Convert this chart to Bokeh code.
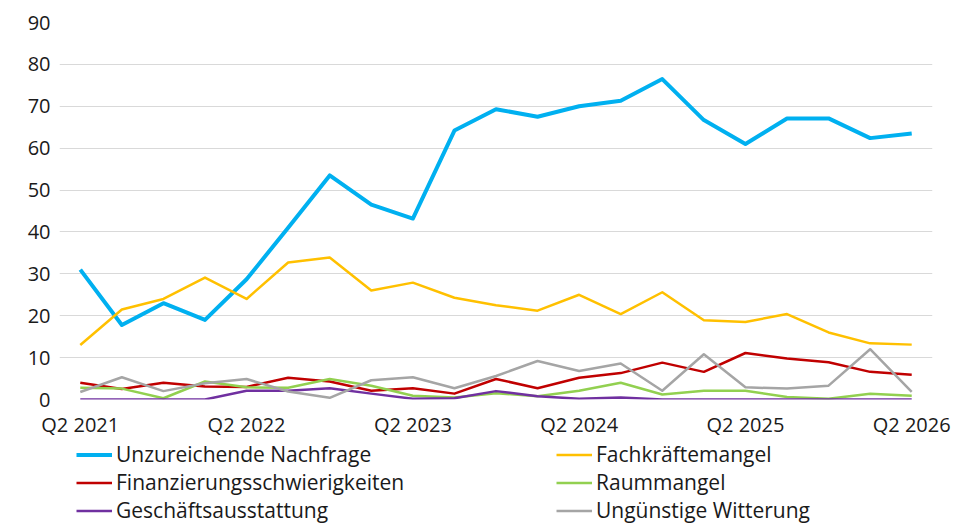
from bokeh.plotting import figure
from bokeh.models import Range1d, FixedTicker, SingleIntervalTicker, Legend, LegendItem
from bokeh.layouts import column
from bokeh.embed import file_html
from bokeh.resources import INLINE

quarters = ["Q2 2021", "Q3 2021", "Q4 2021", "Q1 2022", "Q2 2022", "Q3 2022", "Q4 2022",
            "Q1 2023", "Q2 2023", "Q3 2023", "Q4 2023", "Q1 2024", "Q2 2024", "Q3 2024",
            "Q4 2024", "Q1 2025", "Q2 2025", "Q3 2025", "Q4 2025", "Q1 2026", "Q2 2026"]
tick_positions = [0, 4, 8, 12, 16, 20]

nachfrage = [31.0, 17.8, 23.0, 19.0, 28.7, 41.0, 53.5, 46.5, 43.2, 64.2, 69.3,
             67.5, 70.0, 71.3, 76.5, 66.7, 61.0, 67.1, 67.1, 62.4, 63.5]
fachkraefte = [13.0, 21.5, 24.0, 29.1, 24.0, 32.7, 33.9, 26.0, 27.9, 24.3, 22.5,
               21.2, 25.0, 20.4, 25.6, 18.9, 18.5, 20.4, 16.0, 13.4, 13.1]
finanzierung = [4.0, 2.5, 4.0, 3.1, 3.0, 5.2, 4.3, 2.1, 2.7, 1.4, 4.9,
                2.7, 5.2, 6.3, 8.8, 6.6, 11.1, 9.8, 8.9, 6.6, 5.9]
raummangel = [2.8, 2.6, 0.3, 4.3, 2.9, 2.8, 4.9, 3.3, 0.9, 0.5, 1.5,
              0.8, 2.1, 4.0, 1.2, 2.1, 2.1, 0.6, 0.2, 1.4, 0.9]
ausstattung = [0.0, 0.0, 0.0, 0.0, 2.1, 2.1, 2.7, 1.4, 0.2, 0.3, 2.0,
               0.8, 0.2, 0.5, 0.0, 0.0, 0.0, 0.0, 0.0, 0.0, 0.0]
witterung = [1.8, 5.3, 2.0, 3.9, 4.9, 1.9, 0.4, 4.6, 5.3, 2.7, 5.6,
             9.2, 6.8, 8.6, 2.1, 10.8, 2.9, 2.6, 3.3, 12.0, 1.8]

series = [
    ("Unzureichende Nachfrage", nachfrage, "#00B0F0", 4),
    ("Fachkräftemangel", fachkraefte, "#FFC000", 2.5),
    ("Finanzierungsschwierigkeiten", finanzierung, "#C00000", 2.5),
    ("Raummangel", raummangel, "#92D050", 2.5),
    ("Geschäftsausstattung", ausstattung, "#7030A0", 2.5),
    ("Ungünstige Witterung", witterung, "#A5A5A5", 2.5),
]
legend_col1 = ["Unzureichende Nachfrage", "Finanzierungsschwierigkeiten", "Geschäftsausstattung"]
legend_col2 = ["Fachkräftemangel", "Raummangel", "Ungünstige Witterung"]

FONT = "Open Sans"
W = 954

p = figure(width=W, height=440, output_backend="svg", toolbar_location=None,
           x_range=Range1d(-0.5, 20.5), y_range=Range1d(0, 90),
           min_border_left=59, min_border_right=22, min_border_top=22,
           min_border_bottom=39)
p.outline_line_color = None

xs = list(range(len(quarters)))
for name, vals, color, lw in series:
    p.line(xs, vals, line_color=color, line_width=lw, line_join="round")

p.xgrid.grid_line_color = None
p.ygrid.grid_line_color = "#D9D9D9"
p.ygrid.grid_line_width = 1

p.yaxis.ticker = SingleIntervalTicker(interval=10)
p.xaxis.ticker = FixedTicker(ticks=tick_positions)
p.xaxis.major_label_overrides = {i: quarters[i] for i in tick_positions}
for ax in (p.xaxis[0], p.yaxis[0]):
    ax.axis_line_color = None
    ax.major_tick_line_color = None
    ax.minor_tick_line_color = None
    ax.major_tick_out = 0
    ax.major_tick_in = 0
    ax.minor_tick_out = 0
    ax.major_label_text_font = FONT
    ax.major_label_text_font_size = "20px"
    ax.major_label_text_color = "#1a1a1a"
p.yaxis.major_label_standoff = 9
p.xaxis.major_label_standoff = 11

# legend strip: same series drawn out of view, used only as legend keys
lg = figure(width=W, height=84, output_backend="svg", toolbar_location=None,
            x_axis_location=None, y_axis_location=None,
            x_range=Range1d(-0.5, 20.5), y_range=Range1d(1000, 1001),
            min_border_left=0, min_border_right=0, min_border_top=0, min_border_bottom=0)
lg.outline_line_color = None
lg.grid.visible = False
keys = {}
for name, vals, color, lw in series:
    keys[name] = lg.line(xs, vals, line_color=color, line_width=lw)

common = dict(orientation="vertical", margin=0, padding=0, spacing=0,
              glyph_width=36, glyph_height=25, label_height=25, label_standoff=4,
              label_text_font=FONT, label_text_font_size="21px",
              label_text_color="#1a1a1a",
              background_fill_alpha=0, border_line_color=None)
leg1 = Legend(items=[LegendItem(label=n, renderers=[keys[n]]) for n in legend_col1],
              location=(17, 0), **common)
leg2 = Legend(items=[LegendItem(label=n, renderers=[keys[n]]) for n in legend_col2],
              location=(497, 0), **common)
lg.add_layout(leg1)
lg.add_layout(leg2)

layout = column(p, lg, spacing=0)
open("out.html", "w").write(file_html(layout, INLINE))
